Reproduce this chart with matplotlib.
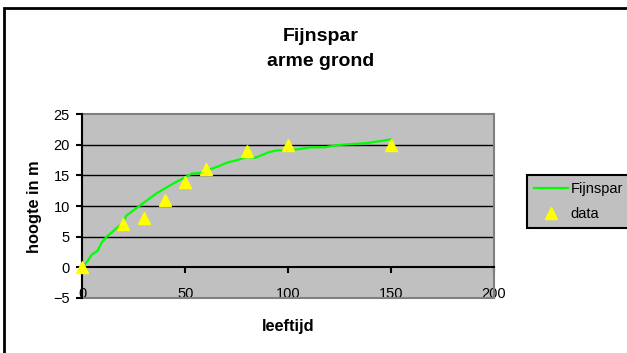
"""Fijnspar op arme grond: hoogte tegen leeftijd"""

import matplotlib
matplotlib.use('Agg')
import matplotlib.pyplot as plt
from matplotlib.patches import Rectangle

plt.rcParams['font.family'] = ['Liberation Sans', 'DejaVu Sans']

# groeicurve (model)
curve_age = [0, 2.4, 4.5, 7.5, 9.4, 11.9, 15.1, 20, 21.3, 28.1, 36.2, 44.3, 50, 53.2,
             57.3, 67, 70.3, 75.2, 80, 84.1, 90.6, 94.6, 101.1, 110.9, 117.3, 125.5,
             138.5, 150]
curve_height = [0, 0.9, 2.0, 2.7, 4.0, 5.0, 5.9, 7.4, 8.4, 10.1, 12.1, 13.7, 14.7, 15.3,
                15.4, 16.6, 17.1, 17.5, 18.0, 17.9, 18.8, 19.1, 19.1, 19.6, 19.6, 20.0,
                20.3, 20.9]

# gemeten waarden
data_age = [0, 20, 30, 40, 50, 60, 80, 100, 150]
data_height = [0, 7, 8, 11, 14, 16, 19, 20, 20]

x_ticks = [0, 50, 100, 150, 200]
y_ticks = [-5, 0, 5, 10, 15, 20, 25]

GRAY = '#C0C0C0'

fig = plt.figure(figsize=(6.27, 3.53), dpi=100)
ax = fig.add_axes([82.3 / 627, 1 - 297.7 / 353, (494 - 82.3) / 627, (297.7 - 114.3) / 353])
ax.set_facecolor(GRAY)

ax.set_xlim(0, 200)
ax.set_ylim(-5, 25)

for y in [5, 10, 15, 20]:
    ax.axhline(y, color='black', lw=1.0, zorder=1)

ax.plot(curve_age, curve_height, color='#00FF00', lw=1.6, label='Fijnspar', zorder=3)
ax.plot(data_age, data_height, ls='none', marker='^', ms=8, mfc='#FFFF00',
        mec='#FFFF00', label='data', zorder=6, clip_on=False)

# plot border in grey, axes in black
ax.add_patch(Rectangle((0, 0), 1, 1, transform=ax.transAxes, fill=False,
                       ec='#808080', lw=1.5, zorder=2, clip_on=False))
for side in ['top', 'right']:
    ax.spines[side].set_visible(False)
ax.spines['bottom'].set_position(('data', 0))
ax.spines['bottom'].set_zorder(5)
ax.spines['left'].set_zorder(5)
for side in ['bottom', 'left']:
    ax.spines[side].set_color('black')
    ax.spines[side].set_linewidth(1.5)

ax.set_xticks(x_ticks)
ax.set_yticks(y_ticks)
ax.tick_params(axis='x', direction='out', length=4.5, width=1.5, pad=10, labelsize=10.5)
ax.tick_params(axis='y', direction='out', length=4.5, width=1.5, pad=4.5, labelsize=10.5)

fig.text(321 / 627, 1 - 40.7 / 353, 'Fijnspar', ha='center', va='baseline',
         fontsize=14, fontweight='bold')
fig.text(321 / 627, 1 - 66 / 353, 'arme grond', ha='center', va='baseline',
         fontsize=14, fontweight='bold')
fig.text(35 / 627, 1 - 207 / 353, 'hoogte in m', ha='center', va='center',
         rotation=90, fontsize=11.8, fontweight='bold')
fig.text(288 / 627, 1 - 327 / 353, 'leeftijd', ha='center', va='center',
         fontsize=11.8, fontweight='bold')

leg = ax.legend(loc='upper left', mode='expand',
                bbox_to_anchor=(526.7 / 627, 1 - 175 / 353, 0.3, 0.001),
                bbox_transform=fig.transFigure, fontsize=10.5, fancybox=False,
                frameon=True, borderpad=0.5, labelspacing=0.75, handlelength=2.3,
                handletextpad=0.2, borderaxespad=0)
leg.get_frame().set_facecolor(GRAY)
leg.get_frame().set_edgecolor('black')
leg.get_frame().set_linewidth(1.5)
leg.get_frame().set_alpha(1)

# chart area border
fig.patches.append(Rectangle((4 / 627, -0.1), 1.5, 1 - 8 / 353 + 0.1,
                             transform=fig.transFigure, fill=False, ec='black',
                             lw=2, clip_on=False))

fig.savefig('out.png', dpi=100)
